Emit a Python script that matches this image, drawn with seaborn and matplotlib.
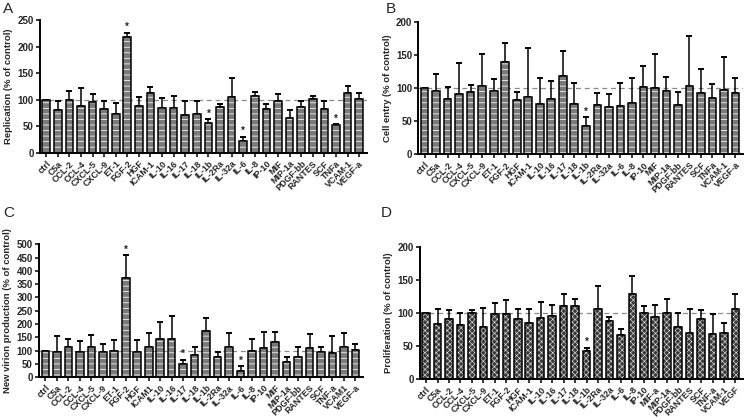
import numpy as np
import pandas as pd
import matplotlib.pyplot as plt
import seaborn as sns

# Category labels per panel
labels_a = ['ctrl', 'C5a', 'CCL-2', 'CCL-4', 'CXCL-5', 'CXCL-9', 'ET-1', 'FGF-2', 'HGF', 'ICAM-1',
            'IL-10', 'IL-16', 'IL-17', 'IL-18', 'IL-1b', 'IL-2Ra', 'IL-32a', 'IL-6', 'IL-8', 'IP-10',
            'MIF', 'MIP-1a', 'PDGF-bb', 'RANTES', 'SCF', 'TNFa', 'VCAM-1', 'VEGF-a']
labels_b = list(labels_a)
labels_c = ['ctrl', 'C5a', 'CCL-2', 'CCL-4', 'CXCL-5', 'CXCL-9', 'ET-1', 'FGF-2', 'HGF', 'ICAM1',
            'IL-10', 'IL-16', 'IL-17', 'IL-18', 'IL-1b', 'IL-2Ra', 'IL-32a', 'IL-6', 'IL-8', 'IP-10',
            'MIF', 'MIP-1a', 'PDGF-bb', 'RANTES', 'SCF', 'TNF-a', 'VCAM1', 'VEGF-a']
labels_d = ['ctrl', 'C5a', 'CCL-2', 'CCL-4', 'CXCL-5', 'CXCL-9', 'ET-1', 'FGF-2', 'HGF', 'ICAM-1',
            'IL-10', 'IL-16', 'IL-17', 'IL-18', 'IL-1b', 'IL-2Ra', 'IL-32a', 'IL-6', 'IL-8', 'IP-10',
            'MIF-a', 'MIP-1a', 'PDGF-bb', 'RANTES', 'SCF', 'TNF-a', 'VCAM-1', 'VEGF']

# Mean values (% of control) and top of error bar
mean_a = [100, 81, 100, 89, 95, 82, 73, 218, 89, 112, 85, 85, 72, 73, 57, 86, 106, 23, 107, 83,
          97, 65, 87, 101, 83, 52, 113, 101]
upper_a = [100, 98, 116, 122, 110, 98, 94, 226, 106, 124, 103, 108, 97, 98, 63, 93, 141, 30, 115, 92,
           111, 81, 97, 108, 97, 54, 126, 113]
mean_b = [100, 95.5, 83, 90.5, 93.5, 103.5, 95.5, 140, 82, 87, 76, 83, 118, 76, 42, 75, 71, 73, 77, 102,
          100, 95.5, 74, 102.5, 93, 84.5, 96.5, 93]
upper_b = [100, 120.5, 101, 137, 105, 152, 113, 168, 94.5, 161, 115.5, 110.5, 156, 107.5, 56, 93, 90.5,
           107.5, 115.5, 132.5, 152, 117, 94, 178, 128, 106.5, 147, 115.5]
mean_c = [100, 95, 113, 93, 115, 93, 100, 373, 93, 115, 143, 145, 50, 82, 173, 77, 113, 23, 97, 110,
          133, 55, 74, 110, 95, 89, 115, 103]
upper_c = [100, 155, 145, 135, 158, 124, 139, 458, 139, 166, 208, 230, 66, 115, 224, 95, 166, 40, 145, 171,
           171, 76, 115, 161, 115, 155, 166, 125]
mean_d = [100, 83, 91, 82, 100, 79, 98, 98, 90, 84, 92, 95, 110, 110, 43, 105, 87, 67, 128, 100,
          93, 100, 79, 69, 91, 68, 69, 105]
upper_d = [100, 105, 104, 100, 104, 106.5, 115, 120, 106, 105, 116, 112, 129, 121, 47, 140, 93, 76, 156, 110,
           112, 121, 100, 105, 104, 98, 85, 129]

# Significant bars (asterisk)
star_a = ['FGF-2', 'IL-1b', 'IL-6', 'TNFa']
star_b = ['IL-1b']
star_c = ['FGF-2', 'IL-17', 'IL-6']
star_d = ['IL-1b']

sns.set_style('ticks')
plt.rcParams['font.family'] = ['Liberation Sans', 'DejaVu Sans']

fig = plt.figure(figsize=(7.51, 4.19), dpi=100)

panels = [
    ('A', labels_a, mean_a, upper_a, star_a, 'Replication (% of control)', 250, 50,
     [0.053, 0.635, 0.436, 0.317], '#7a7a7a', '---', 0.55),
    ('B', labels_b, mean_b, upper_b, star_b, 'Cell entry (% of control)', 200, 50,
     [0.557, 0.632, 0.433, 0.316], '#7a7a7a', '---', 0.55),
    ('C', labels_c, mean_c, upper_c, star_c, 'New virion production (% of control)', 500, 50,
     [0.052, 0.100, 0.432, 0.317], '#7a7a7a', '---', 0.55),
    ('D', labels_d, mean_d, upper_d, star_d, 'Proliferation (% of control)', 200, 50,
     [0.559, 0.0955, 0.431, 0.316], '#3a3a3a', 'xxxxxx', 0.35),
]

letter_pos = {'A': (0.004, 0.995), 'B': (0.514, 0.995), 'C': (0.004, 0.508), 'D': (0.507, 0.508)}

for letter, labels, means, uppers, stars, ylabel, ymax, ystep, rect, fc, hatch, hlw in panels:
    ax = fig.add_axes(rect)
    df = pd.DataFrame({'cytokine': labels, 'value': means})

    # textured fill
    plt.rcParams['hatch.linewidth'] = hlw
    sns.barplot(data=df, x='cytokine', y='value', order=labels, color=fc, width=0.66,
                linewidth=0, edgecolor='white', errorbar=None, ax=ax, zorder=2)
    for p in ax.patches:
        p.set_hatch(hatch)
    # black outline
    sns.barplot(data=df, x='cytokine', y='value', order=labels, fill=False, color='black',
                width=0.66, linewidth=1.1, errorbar=None, ax=ax, zorder=3)

    x = np.arange(len(labels))
    err = np.array(uppers) - np.array(means)
    ax.errorbar(x, means, yerr=[np.zeros(len(x)), err], fmt='none', ecolor='black',
                elinewidth=1.1, capsize=2, capthick=1.4, zorder=1)

    ax.axhline(100, color='#8c8c8c', lw=0.9, ls=(0, (4, 3)), zorder=0)

    for s in stars:
        i = labels.index(s)
        ax.annotate('*', (i, uppers[i]), xytext=(0, 0.5), textcoords='offset points',
                    ha='center', va='bottom', fontsize=7, fontweight='bold')

    ax.set_xlim(-0.55, len(labels) - 0.3)
    ax.set_ylim(0, ymax)
    ax.set_yticks(np.arange(0, ymax + 1, ystep))
    ax.set_xlabel('')
    ax.set_ylabel(ylabel, fontsize=6.8, fontweight='bold', labelpad=3)
    ax.set_xticks(x)
    ax.set_xticklabels(labels, rotation=45, ha='right', rotation_mode='anchor',
                       fontsize=6.4, fontweight='bold')
    for t in ax.get_yticklabels():
        t.set_fontweight('bold')
        t.set_fontsize(7)
    ax.tick_params(axis='both', width=1.1, length=3, pad=1.5, color='black')
    sns.despine(ax=ax)
    for sp in ['left', 'bottom']:
        ax.spines[sp].set_linewidth(1.4)
        ax.spines[sp].set_color('black')
    ax.set_facecolor('white')

    lx, ly = letter_pos[letter]
    fig.text(lx, ly, letter, fontsize=11, ha='left', va='top')

fig.savefig('out.png', dpi=100, facecolor='white')
